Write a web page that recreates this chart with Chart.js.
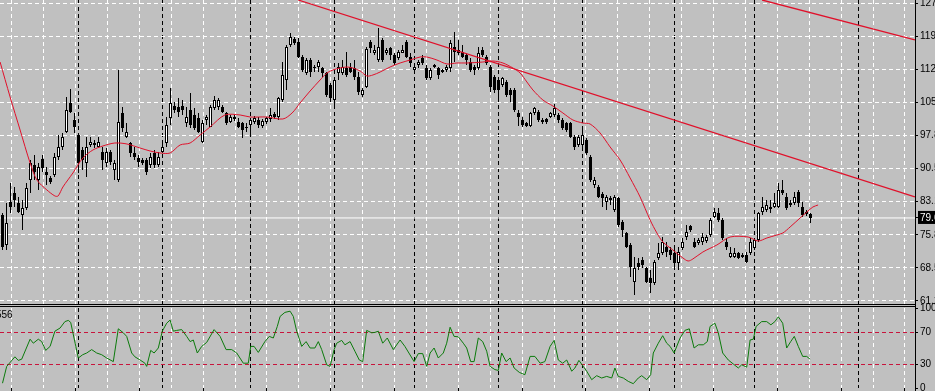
<!DOCTYPE html>
<html>
<head>
<meta charset="utf-8">
<title>Chart</title>
<script src="https://cdn.jsdelivr.net/npm/chart.js@4.4.1/dist/chart.umd.min.js"></script>
<style>
  html, body { margin: 0; padding: 0; background: #c0c0c0; overflow: hidden; }
  #wrap { position: relative; width: 935px; height: 391px; overflow: hidden; background: #c0c0c0; }
  canvas { position: absolute; left: 0; }
  #price-canvas { top: 0; }
  #osc-canvas { top: 296px; }
  .rule { position: absolute; background: #000; }
  #osc-title { position: absolute; left: -4px; top: 310px; font: 10px 'Liberation Sans', Arial, sans-serif; line-height: 10px; color: #000; }
</style>
</head>
<body>
<div id="wrap">
  <canvas id="price-canvas" width="935" height="304"></canvas>
  <canvas id="osc-canvas" width="935" height="95"></canvas>
  <div class="rule" style="left:0;top:304px;width:916px;height:1px"></div>
  <div class="rule" style="left:0;top:306px;width:916px;height:1px"></div>
  <div class="rule" style="left:915px;top:303px;width:1px;height:6px"></div>
  <div class="rule" style="left:915px;top:387px;width:1px;height:4px"></div>
  <div id="osc-title">556</div>
</div>
<script>
'use strict';
// ---------- Price pane (candles, MA, trend lines) + oscillator pane ----------
// x is in bar units: bar i sits at 2.5 + 4*i px, 4 px per bar.

const X_MIN = -0.625;
const X_MAX = 228.125;
const PRICE_MIN = 60.53;
const PRICE_MAX = 127.90;
const PRICE_TICKS = [127.17, 119.84, 112.51, 105.18, 97.85, 90.52, 83.19, 75.86, 68.53, 61.20];
const BID = 79.60;
const OSC_TICKS = [100, 70, 30, 0];
const OSC_LEVELS = [70, 30];

// vertical grid (white) and period separators (black), in bar units
const GRID_X = [2.3, 10.28, 18.25, 26.23, 34.2, 42.18, 50.16, 58.13, 66.1, 74.08, 82.06, 90.04, 98.0,
    105.99, 113.96, 121.94, 129.92, 137.89, 145.87, 153.84, 161.82, 169.8, 177.77, 185.75,
    193.72, 201.7, 209.68, 217.65, 225.6];
const SEPARATORS = [19, 40, 62, 83, 103, 124, 145, 168, 188, 214];
const BOTTOM_TICKS = GRID_X.filter((_, k) => k % 2 === 0);

const OPEN = [
    80.26, 73.61, 83.14, 85.13, 82.92, 80.26, 81.81, 88.01, 91.34, 88.01,
    92.67, 89.78, 88.46, 89.12, 93.11, 95.33, 98.65, 105.08, 101.31, 97.98,
    94.66, 91.78, 95.77, 96.21, 95.33, 94.22, 91.78, 94.22, 90.23, 88.01,
    102.86, 97.54, 96.21, 94.00, 92.89, 92.44, 92.44, 91.34, 94.00, 91.34,
    94.22, 96.21, 101.75, 104.41, 104.19, 104.41, 100.64, 103.52, 102.42, 101.75,
    96.43, 101.31, 99.76, 103.97, 104.19, 104.19, 102.86, 100.86, 101.53, 100.86,
    100.64, 99.54, 100.20, 100.86, 101.31, 99.98, 100.86, 101.53, 102.64, 101.97,
    105.74, 110.17, 117.93, 119.26, 118.59, 115.27, 111.72, 114.60, 113.05, 113.05,
    112.83, 111.72, 109.06, 105.74, 111.72, 111.72, 112.83, 113.05, 112.83, 110.84,
    106.85, 108.62, 118.59, 116.16, 114.60, 119.04, 116.16, 117.26, 115.71, 115.05,
    116.16, 118.59, 115.27, 112.39, 113.50, 115.05, 112.83, 110.62, 113.50, 112.83,
    112.39, 112.39, 112.83, 117.48, 116.82, 116.38, 115.71, 114.16, 113.05, 112.83,
    116.82, 115.27, 113.05, 110.84, 110.17, 109.06, 109.73, 107.96, 107.96, 102.86,
    101.31, 100.64, 99.98, 102.86, 103.08, 101.31, 101.53, 101.97, 102.42, 102.42,
    101.31, 100.64, 100.64, 97.54, 95.77, 95.77, 96.88, 93.11, 86.90, 86.46,
    84.91, 83.14, 84.02, 81.36, 84.02, 78.70, 76.27, 73.61, 65.41, 69.62,
    70.28, 68.51, 66.30, 65.19, 70.73, 71.84, 73.16, 72.50, 71.84, 69.62,
    72.94, 75.38, 77.82, 74.27, 74.05, 74.27, 74.49, 75.82, 79.81, 80.70,
    79.15, 74.27, 70.95, 70.95, 71.84, 70.95, 71.39, 71.84, 72.94, 74.72,
    80.92, 81.36, 81.59, 82.03, 82.03, 85.80, 84.25, 82.47, 82.92, 85.35,
    82.03, 80.92, 80.48
];
const HIGH = [
    80.70, 82.92, 87.35, 86.46, 84.25, 83.58, 87.35, 92.44, 93.55, 91.78,
    93.55, 90.89, 88.90, 94.00, 97.98, 98.43, 106.41, 108.18, 102.86, 98.43,
    95.33, 97.54, 97.54, 96.88, 97.54, 95.33, 95.10, 94.66, 92.44, 112.39,
    104.19, 100.64, 96.43, 95.33, 93.55, 92.89, 92.89, 94.00, 94.66, 94.22,
    96.43, 101.97, 108.40, 105.30, 106.18, 105.74, 104.19, 107.29, 103.97, 102.86,
    101.31, 102.42, 104.63, 106.63, 106.18, 104.63, 103.08, 102.42, 102.42, 101.75,
    100.86, 100.64, 101.75, 102.19, 101.97, 101.53, 101.97, 103.97, 103.08, 106.41,
    114.16, 117.93, 120.59, 119.70, 119.48, 115.71, 115.05, 115.05, 113.50, 114.60,
    113.05, 111.94, 109.51, 110.62, 113.94, 114.60, 116.38, 113.94, 114.60, 111.94,
    108.40, 117.48, 119.04, 117.93, 121.70, 119.48, 117.26, 117.48, 116.16, 116.82,
    117.93, 119.04, 116.16, 113.50, 114.60, 115.71, 113.50, 112.83, 113.72, 113.05,
    112.61, 113.50, 119.04, 120.81, 119.04, 117.93, 116.16, 115.05, 113.50, 117.48,
    117.48, 115.71, 113.50, 111.28, 110.62, 110.84, 110.17, 108.40, 108.40, 103.52,
    101.97, 100.86, 103.08, 104.19, 103.52, 101.75, 101.75, 103.08, 104.85, 102.86,
    101.75, 100.86, 100.86, 97.98, 97.98, 99.76, 97.32, 93.55, 88.68, 86.90,
    85.35, 84.69, 84.47, 84.69, 84.25, 79.15, 76.49, 74.05, 70.95, 70.73,
    70.95, 68.73, 68.07, 70.28, 74.05, 75.38, 74.27, 73.16, 73.16, 73.16,
    75.16, 78.04, 78.04, 75.16, 75.16, 76.27, 75.82, 79.59, 81.81, 81.81,
    79.59, 75.16, 73.16, 72.94, 72.06, 71.84, 72.06, 75.16, 75.16, 80.92,
    84.25, 83.58, 83.58, 85.13, 87.35, 88.01, 85.13, 83.58, 85.35, 85.80,
    83.14, 81.36, 80.70
];
const LOW = [
    72.50, 72.50, 80.70, 82.03, 80.70, 76.93, 81.36, 85.13, 88.01, 85.80,
    89.78, 86.90, 87.13, 88.68, 92.44, 94.66, 98.43, 102.86, 98.43, 89.56,
    90.23, 88.68, 95.33, 95.10, 95.10, 90.23, 90.89, 91.34, 88.01, 87.57,
    98.65, 97.32, 93.11, 92.44, 90.89, 91.34, 89.12, 90.67, 90.67, 90.89,
    94.00, 95.33, 100.20, 102.86, 101.97, 102.42, 99.76, 99.54, 99.09, 98.43,
    96.21, 100.20, 99.76, 103.52, 103.52, 102.86, 100.20, 100.64, 101.09, 99.54,
    97.32, 98.65, 98.43, 100.42, 99.54, 99.54, 100.42, 100.86, 101.53, 101.31,
    105.30, 107.96, 117.48, 117.93, 115.05, 111.94, 111.28, 110.84, 111.94, 111.94,
    110.84, 106.41, 105.30, 104.63, 110.17, 111.28, 110.84, 111.72, 110.17, 106.85,
    106.41, 108.40, 116.16, 115.71, 114.16, 114.16, 115.71, 114.60, 113.50, 114.60,
    116.16, 115.05, 113.05, 111.72, 112.83, 113.50, 110.17, 110.17, 112.83, 110.39,
    111.72, 111.94, 111.94, 114.16, 115.71, 115.05, 113.50, 111.94, 111.28, 112.39,
    115.27, 113.50, 107.51, 107.29, 106.18, 108.62, 106.41, 105.30, 103.08, 99.98,
    99.76, 99.76, 99.76, 102.42, 100.86, 100.42, 100.42, 101.75, 101.97, 100.64,
    99.09, 98.65, 97.32, 94.66, 95.33, 95.33, 93.55, 87.57, 86.24, 84.02,
    82.03, 81.36, 82.47, 80.92, 77.60, 75.38, 72.94, 66.52, 62.53, 68.07,
    68.51, 65.19, 62.97, 64.74, 70.28, 71.39, 70.95, 70.28, 68.51, 68.07,
    72.50, 74.72, 76.49, 72.94, 73.61, 73.61, 74.05, 75.38, 79.59, 78.70,
    74.72, 72.50, 70.73, 70.73, 70.51, 70.73, 69.62, 71.39, 72.50, 74.27,
    80.26, 80.92, 80.70, 81.81, 81.81, 84.69, 81.36, 82.03, 82.47, 82.03,
    79.81, 80.03, 78.48
];
const CLOSE = [
    73.16, 78.48, 82.03, 83.58, 80.92, 81.81, 86.24, 91.78, 89.78, 90.89,
    90.67, 89.12, 87.57, 93.11, 95.33, 97.54, 103.52, 103.08, 99.76, 91.78,
    92.44, 95.33, 96.43, 95.77, 96.43, 92.44, 94.22, 92.00, 91.78, 100.86,
    99.54, 98.65, 94.00, 93.11, 92.00, 91.78, 89.78, 93.11, 91.34, 93.11,
    95.33, 100.20, 105.08, 103.52, 103.08, 103.52, 101.97, 100.20, 99.54, 98.65,
    100.64, 101.97, 104.19, 105.74, 105.74, 103.08, 100.64, 101.97, 101.97, 99.76,
    99.09, 99.76, 101.31, 101.75, 100.20, 101.09, 101.75, 102.42, 101.97, 106.18,
    111.28, 117.48, 119.70, 118.37, 115.27, 112.39, 114.60, 111.94, 112.83, 114.16,
    111.72, 106.85, 106.18, 110.17, 113.05, 113.05, 111.28, 111.94, 110.84, 107.51,
    107.96, 117.04, 117.26, 116.82, 117.48, 114.60, 116.82, 115.71, 113.94, 116.38,
    116.82, 115.27, 113.94, 113.05, 114.16, 113.94, 110.62, 112.39, 113.05, 111.28,
    111.94, 113.05, 118.37, 116.38, 116.16, 115.27, 114.60, 112.39, 112.39, 116.16,
    115.71, 113.94, 108.62, 107.96, 107.96, 110.62, 106.85, 106.85, 103.52, 101.97,
    100.20, 99.98, 102.86, 103.97, 101.31, 100.86, 100.86, 102.86, 103.97, 101.31,
    99.54, 99.09, 97.54, 95.33, 97.54, 97.98, 94.00, 88.01, 88.01, 84.25,
    84.02, 84.25, 83.58, 84.25, 78.04, 76.93, 73.16, 68.73, 68.51, 68.73,
    69.18, 65.41, 65.19, 69.84, 71.84, 74.27, 72.06, 71.39, 69.62, 72.06,
    74.27, 76.49, 76.93, 73.16, 74.72, 75.38, 75.38, 79.15, 80.92, 79.15,
    75.16, 73.16, 71.84, 71.84, 70.73, 71.39, 69.84, 74.27, 74.72, 80.70,
    82.03, 82.47, 82.03, 82.92, 85.80, 85.13, 81.81, 82.92, 84.25, 82.92,
    80.26, 80.48, 79.59
];

// moving average: [bar, price]
const MA = [
    [-0.6, 114.16], [1.9, 106.41], [4.4, 99.09], [6.9, 91.78], [8.6, 88.01], [11.1, 85.80],
    [13.1, 84.47], [13.9, 84.47], [15.1, 86.46], [17.6, 89.56], [20.1, 92.89], [22.6, 94.66],
    [25.1, 95.55], [28.1, 96.21], [31.1, 95.99], [34.4, 95.10], [36.9, 94.44], [39.4, 94.00],
    [41.9, 94.00], [44.4, 95.77], [46.9, 96.21], [49.4, 97.98], [51.9, 99.76], [55.6, 102.42],
    [59.4, 102.42], [61.9, 101.97], [66.1, 101.97], [70.1, 101.53], [72.4, 102.86], [74.4, 105.08],
    [76.9, 107.73], [79.4, 110.17], [81.1, 111.72], [82.6, 112.39], [84.4, 112.83], [86.1, 113.05],
    [87.6, 112.83], [89.4, 112.17], [91.1, 111.06], [92.6, 111.28], [94.4, 111.94], [96.9, 113.05],
    [99.4, 113.94], [101.9, 114.60], [104.4, 115.27], [106.1, 115.27], [108.6, 114.60], [111.1, 113.72],
    [113.6, 113.94], [116.1, 113.94], [120.1, 114.16], [122.6, 114.38], [125.1, 113.94], [127.6, 112.83],
    [129.4, 111.72], [131.1, 109.73], [132.6, 107.96], [135.1, 105.74], [137.6, 104.41], [140.1, 102.86],
    [142.6, 101.31], [145.1, 100.64], [146.9, 100.42], [149.4, 98.43], [151.9, 95.33], [154.4, 92.44],
    [156.9, 88.46], [159.4, 84.25], [161.9, 79.15], [163.6, 76.27], [165.1, 74.27], [167.6, 72.50],
    [170.1, 70.73], [171.4, 70.06], [172.6, 70.51], [175.1, 72.06], [178.6, 73.61], [181.9, 75.38],
    [186.4, 75.38], [188.9, 74.49], [191.1, 75.16], [193.6, 75.82], [195.1, 76.27], [196.9, 77.60],
    [199.4, 79.59], [201.1, 80.92], [202.6, 82.03], [203.9, 82.47]
];

// the two red trend lines: [bar, price] end points
const TREND_LOW = [[73.9, 127.90], [228.1, 84.25]];
const TREND_HIGH = [[189.9, 127.90], [228.1, 119.04]];

// oscillator turning points: [bar, value]
const OSC = [
    [0, 6], [1.05, 27], [3.1, 39], [3.95, 34.5], [4.8, 36], [6.9, 61], [7.7, 56], [8.95, 61], [9.8, 58],
    [10.8, 47], [11.9, 52], [13.1, 71], [14.4, 75], [15.6, 83], [16.45, 84.5], [17.05, 82], [18.95, 37.5],
    [20.05, 41.6], [21.05, 43.75], [22.3, 48], [23.55, 43.75], [24.8, 41.6], [26.05, 37.5], [27.7, 33],
    [28.95, 74], [30.2, 69], [31.05, 64.5], [32.3, 43.75], [33.1, 39], [34.4, 35], [35.6, 31], [36.05, 27],
    [37.05, 47], [37.9, 43.75], [38.95, 50], [39.95, 71], [41.05, 81], [41.9, 85], [42.7, 71], [43.55, 72],
    [44.8, 73], [46.05, 64.5], [46.9, 58], [47.7, 60], [48.7, 43.75], [49.8, 52], [51.05, 57], [52.9, 73],
    [54.4, 64.5], [55.9, 48], [57.3, 48], [58.55, 43.75], [60.2, 31], [61.45, 31], [62.05, 52], [62.9, 52],
    [63.95, 44.5], [65.6, 58], [66.7, 64.5], [67.7, 62.5], [68.7, 77], [69.4, 89.5], [70.6, 94.5], [71.9, 96],
    [72.7, 89.5], [73.55, 71], [74.8, 52], [75.9, 58], [76.9, 50], [78.1, 50], [78.95, 58], [79.8, 48],
    [81.05, 29], [81.9, 27], [82.9, 48], [83.55, 56], [84.8, 59.5], [85.6, 54], [86.9, 58], [88.1, 46],
    [89.2, 35], [90.05, 33], [91.05, 72], [92.3, 69], [93.1, 69.5], [93.95, 71], [95.05, 56], [96.2, 62.5],
    [97.7, 48], [99.4, 60], [100.6, 52], [102.9, 33], [103.95, 43], [105.05, 43], [106.05, 27], [106.9, 43.75],
    [107.9, 50], [108.95, 37.5], [110.2, 43.75], [111.05, 56], [111.9, 76], [112.9, 64.5], [113.95, 64],
    [115.2, 56], [116.05, 50], [117.05, 33], [117.9, 33], [118.95, 62.5], [120.05, 58], [121.05, 46],
    [121.9, 27], [123.1, 23], [123.95, 22], [124.8, 43.75], [125.9, 33], [126.9, 37.5], [127.9, 25],
    [129.2, 19.5], [130.6, 16.6], [131.9, 39.5], [133.1, 39.5], [134.4, 31], [135.6, 33], [136.9, 52],
    [137.9, 59.5], [138.95, 35], [140.05, 31], [141.05, 35], [142.3, 21], [143.1, 25], [144.1, 34.5],
    [145.2, 27], [146.05, 21], [147.3, 10.4], [148.55, 15.4], [149.8, 12.5], [151.05, 14.5], [152.3, 12.5],
    [153.1, 25], [153.95, 14.5], [155.2, 12.5], [156.45, 8.25], [157.7, 5.4], [158.95, 12.5], [159.8, 15.4],
    [161.05, 10.4], [162.05, 16.6], [162.7, 43.75], [163.95, 56], [165.05, 65.4], [166.05, 56], [166.9, 52],
    [167.9, 43.75], [169.4, 62.5], [170.6, 72], [171.7, 74], [172.9, 50], [173.95, 54], [175.2, 54],
    [176.2, 58], [176.9, 77], [178.1, 81], [178.95, 69], [180.05, 43.75], [181.45, 35], [182.7, 30],
    [183.95, 25], [184.8, 29], [186.05, 26], [186.9, 60], [187.7, 61], [188.4, 77], [189.8, 83], [191.05, 83],
    [192.1, 79], [193.1, 83], [193.95, 89], [195.05, 81], [196.05, 50], [197.05, 58], [197.95, 64.5],
    [198.95, 52], [200.05, 39.5], [201.05, 39.5], [201.9, 36]
];

const CLEAR = 'rgba(0,0,0,0)';
const RED = '#e0102a';
Chart.defaults.font.family = "'Liberation Sans', Arial, sans-serif";
Chart.defaults.font.size = 10;
Chart.defaults.color = '#000';

const toPts = arr => arr.map(([x, y]) => ({ x, y }));
const isTick = (c, list) => !!(c.tick && list.includes(c.tick.value));

// shared bar-index axis for both panes
function barAxis(withTicks) {
    return {
        type: 'linear', min: X_MIN, max: X_MAX, offset: false,
        afterBuildTicks: s => { s.ticks = GRID_X.concat(SEPARATORS).map(v => ({ value: v })); },
        afterFit: s => { s.height = withTicks ? 3 : 0; s.paddingLeft = 0; s.paddingRight = 0; },
        ticks: { display: false, autoSkip: false },
        grid: {
            offset: false,
            color: c => isTick(c, SEPARATORS) ? '#000' : '#fff',
            drawTicks: withTicks,
            tickLength: 3,
            tickColor: c => isTick(c, BOTTOM_TICKS) ? '#000' : CLEAR,
        },
        border: { display: false, dash: [4, 3] },
    };
}

new Chart(document.getElementById('price-canvas'), {
    type: 'bar',
    data: {
        datasets: [
            {   // bid line
                type: 'line', order: 5,
                data: [{ x: X_MIN, y: BID }, { x: X_MAX, y: BID }],
                borderColor: '#fff', borderWidth: 1, pointRadius: 0,
            },
            {   // wicks
                type: 'bar', order: 4, grouped: false,
                data: LOW.map((l, i) => ({ x: i, y: [l, HIGH[i]] })),
                backgroundColor: '#000', borderWidth: 0,
                barThickness: 1, inflateAmount: 0,
            },
            {   // bodies
                type: 'bar', order: 3, grouped: false,
                data: OPEN.map((o, i) => ({ x: i, y: [o, CLOSE[i]] })),
                backgroundColor: OPEN.map((o, i) => CLOSE[i] >= o ? '#fff' : '#000'),
                borderColor: '#000', borderWidth: 1, borderSkipped: false,
                barThickness: 3, minBarLength: 1, inflateAmount: 0,
            },
            {
                type: 'line', order: 2, data: toPts(MA),
                borderColor: RED, borderWidth: 1, pointRadius: 0, tension: 0.3,
            },
            {
                type: 'line', order: 1, data: toPts(TREND_LOW),
                borderColor: RED, borderWidth: 1.3, pointRadius: 0,
            },
            {
                type: 'line', order: 1, data: toPts(TREND_HIGH),
                borderColor: RED, borderWidth: 1.3, pointRadius: 0,
            },
        ],
    },
    options: {
        responsive: false, animation: false, devicePixelRatio: 1,
        layout: { padding: 0 },
        plugins: { legend: { display: false }, tooltip: { enabled: false } },
        scales: {
            x: barAxis(false),
            y: {
                type: 'linear', position: 'right', min: PRICE_MIN, max: PRICE_MAX, beginAtZero: false,
                afterBuildTicks: s => { s.ticks = PRICE_TICKS.concat([BID]).map(v => ({ value: v })); },
                afterFit: s => { s.width = 20; s.paddingTop = 0; s.paddingBottom = 0; },
                ticks: {
                    autoSkip: false, padding: 2,
                    callback: v => v.toFixed(2),
                    color: c => isTick(c, [BID]) ? '#fff' : '#000',
                    showLabelBackdrop: c => isTick(c, [BID]),
                    backdropColor: '#000',
                    backdropPadding: { top: 1, bottom: 0, left: 2, right: 4 },
                },
                grid: {
                    color: c => isTick(c, [BID]) ? CLEAR : '#fff',
                    tickLength: 3, tickColor: '#000',
                },
                border: { display: true, color: '#000', width: 1, dash: [4, 3] },
            },
        },
    },
});

new Chart(document.getElementById('osc-canvas'), {
    type: 'line',
    data: {
        datasets: [{
            data: toPts(OSC),
            borderColor: '#0b7a0b', borderWidth: 1, pointRadius: 0, tension: 0,
        }],
    },
    options: {
        responsive: false, animation: false, devicePixelRatio: 1,
        layout: { padding: { top: 12, left: 0, right: 0, bottom: 0 } },
        plugins: { legend: { display: false }, tooltip: { enabled: false } },
        scales: {
            x: barAxis(true),
            y: {
                type: 'linear', position: 'right', min: 0, max: 100,
                afterBuildTicks: s => { s.ticks = OSC_TICKS.map(v => ({ value: v })); },
                afterFit: s => { s.width = 20; s.paddingTop = 0; s.paddingBottom = 0; },
                ticks: { autoSkip: false, padding: 2, callback: v => String(v) },
                grid: {
                    color: c => isTick(c, OSC_LEVELS) ? '#c8143c' : CLEAR,
                    tickLength: 3, tickColor: '#000',
                },
                border: { display: true, color: '#000', width: 1, dash: [4, 3] },
            },
        },
    },
});
</script>
</body>
</html>
